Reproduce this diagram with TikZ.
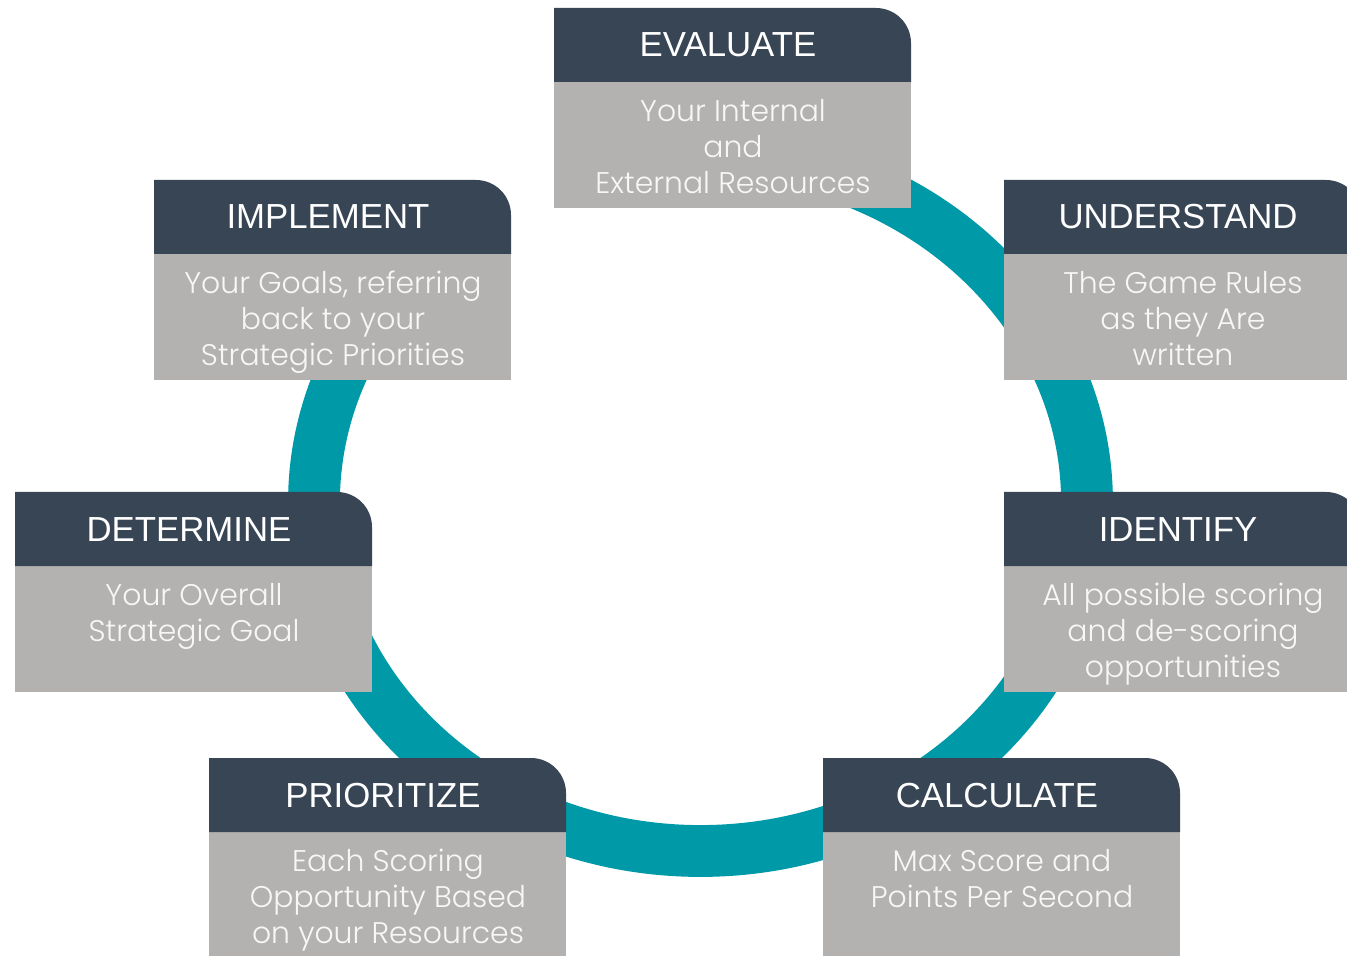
\documentclass[tikz,border=0pt]{standalone}
\usepackage{fontspec}
\newfontfamily\headfont{Liberation Sans}
\newfontfamily\bodyfont{Poppins Light}
\definecolor{ringteal}{HTML}{0099A8}
\definecolor{headblue}{HTML}{374555}
\definecolor{bodygray}{HTML}{B3B2B0}
\definecolor{bodytext}{HTML}{F7F7F7}

\tikzset{
  cyclering/.style={draw=ringteal, line width=29.5pt},
  headlabel/.style={anchor=base, inner sep=0pt, text=white,
    font=\headfont\fontsize{19.8}{22}\selectfont},
  bodylabel/.style={anchor=north, inner sep=0pt, align=center, text=bodytext,
    font=\bodyfont\fontsize{17}{20.4}\selectfont},
}

% #1 name, #2 left x, #3 top y, #4 title, #5 description
\newcommand\stepcard[5]{%
  \fill[bodygray] (#2,#3+74) rectangle (#2+357,#3+200);
  \fill[headblue] (#2,#3+74) -- (#2,#3) -- (#2+322,#3)
    .. controls (#2+341.3,#3) and (#2+357,#3+15.7) .. (#2+357,#3+35)
    -- (#2+357,#3+74) -- cycle;
  \node[headlabel] (#1) at (#2+174,#3+49) {#4};
  \node[bodylabel] (#1-text) at (#2+179,#3+85) {\rule{0pt}{16pt}#5};
}

\begin{document}
\begin{tikzpicture}[x=0.02cm, y=-0.02cm]
  \useasboundingbox (0,0) rectangle (1347,956);
  \clip (0,0) rectangle (1347,956);
  \fill[white] (0,0) rectangle (1347,956);

  % the open cycle band behind the cards (ends hidden under two cards)
  \coordinate (bandstart) at (700.5,153);
  \draw[cyclering] (bandstart)
    arc[start angle=270, end angle=580, x radius=386.5, y radius=349];

  \stepcard{evaluate}{554}{8}{EVALUATE}{Your Internal\\and\\External Resources}
  \stepcard{understand}{1004}{180}{UNDERSTAND}{The Game Rules\\as they Are\\written}
  \stepcard{identify}{1004}{492}{IDENTIFY}{All possible scoring\\and de-scoring\\opportunities}
  \stepcard{calculate}{823}{758}{CALCULATE}{Max Score and\\Points Per Second}
  \stepcard{prioritize}{209}{758}{PRIORITIZE}{Each Scoring\\Opportunity Based\\on your Resources}
  \stepcard{determine}{15}{492}{DETERMINE}{Your Overall\\Strategic Goal}
  \stepcard{implement}{154}{180}{IMPLEMENT}{Your Goals, referring\\back to your\\Strategic Priorities}
\end{tikzpicture}
\end{document}
